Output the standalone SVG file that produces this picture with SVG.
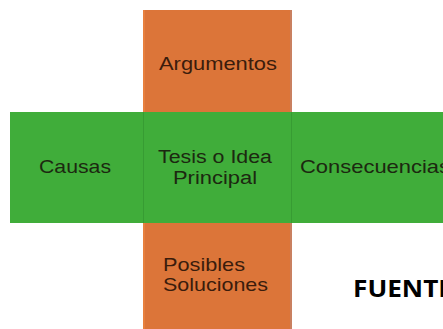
<svg xmlns="http://www.w3.org/2000/svg" width="443" height="329" viewBox="0 0 443 329">
<style>
.or{fill:#dc7539}
.gr{fill:#40ad3a}
.lbl{font-family:"Liberation Sans",Arial,sans-serif;font-size:19px;fill:#1c2810}
.sm{font-size:18px}
.lo{fill:#3a1c0c}
.sep{stroke:#379c33;stroke-width:1;fill:none}
.fuente{font-family:"Open Sans","Liberation Sans",sans-serif;font-weight:bold;font-size:23px;fill:#000}
</style>
<rect width="443" height="329" fill="#fff"/>
<g id="column">
<rect class="or" x="143" y="10" width="149" height="319"/>
<rect x="143" y="10" width="2" height="319" fill="#e8803e"/>
<rect x="290" y="10" width="2" height="319" fill="#c98060"/>
</g>
<g id="band">
<rect class="gr" x="10" y="112" width="433" height="111"/>
<line class="sep" x1="143.5" y1="112" x2="143.5" y2="223"/>
<line class="sep" x1="291.5" y1="112" x2="291.5" y2="223"/>
</g>
<g id="connectors"></g>
<g id="argumentos">
<text class="lbl lo" x="159" y="70" textLength="118" lengthAdjust="spacingAndGlyphs">Argumentos</text>
</g>
<g id="causas">
<text class="lbl" x="39" y="173" textLength="72" lengthAdjust="spacingAndGlyphs">Causas</text>
</g>
<g id="tesis">
<text class="lbl sm" x="158" y="163" textLength="114" lengthAdjust="spacingAndGlyphs">Tesis o Idea</text>
<text class="lbl sm" x="173" y="184" textLength="84" lengthAdjust="spacingAndGlyphs">Principal</text>
</g>
<g id="consecuencias">
<text class="lbl" x="300" y="173" textLength="150" lengthAdjust="spacingAndGlyphs">Consecuencias</text>
</g>
<g id="soluciones">
<text class="lbl lo" x="163" y="271" textLength="82" lengthAdjust="spacingAndGlyphs">Posibles</text>
<text class="lbl lo" x="163" y="291" textLength="105" lengthAdjust="spacingAndGlyphs">Soluciones</text>
</g>
<g id="fuente">
<text class="fuente" x="353" y="297" textLength="100" lengthAdjust="spacingAndGlyphs">FUENTE</text>
</g>
</svg>
